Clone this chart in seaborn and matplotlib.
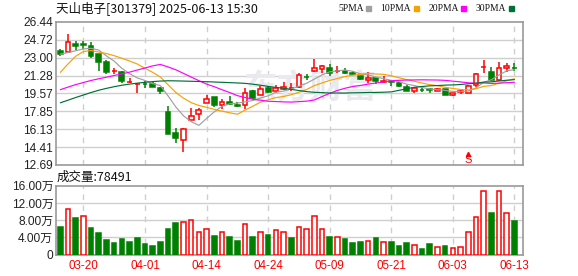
import numpy as np
import pandas as pd
import matplotlib
matplotlib.use('Agg')
import matplotlib.pyplot as plt
import seaborn as sns

# ---------------- data ----------------
dates = ['03-17', '03-18', '03-19', '03-20', '03-21', '03-24', '03-25', '03-26', '03-27', '03-28',
         '03-31', '04-01', '04-02', '04-03', '04-07', '04-08', '04-09', '04-10', '04-11', '04-14',
         '04-15', '04-16', '04-17', '04-18', '04-21', '04-22', '04-23', '04-24', '04-25', '04-28',
         '04-29', '04-30', '05-06', '05-07', '05-08', '05-09', '05-12', '05-13', '05-14', '05-15',
         '05-16', '05-19', '05-20', '05-21', '05-22', '05-23', '05-26', '05-27', '05-28', '05-29',
         '05-30', '06-03', '06-04', '06-05', '06-06', '06-09', '06-10', '06-11', '06-12', '06-13']
opens = [23.61, 23.58, 24.28, 24.30, 24.18, 23.32, 22.56, 21.69, 21.64, 20.64,
         20.46, 20.48, 20.44, 20.09, 17.74, 15.77, 15.07, 16.98, 17.58, 18.63,
         19.20, 18.44, 18.75, 18.47, 18.44, 19.80, 19.39, 20.09, 19.80, 19.99,
         20.05, 20.16, 21.18, 21.74, 21.90, 21.99, 21.70, 21.77, 21.49, 21.29,
         20.85, 21.07, 20.66, 20.72, 20.53, 20.18, 19.83, 19.89, 19.95, 19.80,
         19.96, 19.42, 19.74, 19.64, 20.34, 22.13, 21.67, 20.85, 22.02, 22.05]
highs = [23.83, 25.32, 24.59, 24.59, 24.47, 23.38, 22.82, 22.05, 21.70, 21.10,
         20.59, 20.72, 20.66, 20.21, 18.37, 16.21, 16.28, 18.15, 18.21, 19.39,
         19.20, 19.01, 19.32, 18.72, 20.09, 19.86, 20.28, 20.28, 20.34, 20.66,
         20.60, 21.58, 21.42, 22.85, 22.31, 22.37, 22.18, 22.05, 21.74, 21.29,
         21.61, 21.07, 21.23, 20.85, 20.66, 20.37, 20.09, 20.09, 20.05, 20.09,
         19.96, 19.61, 19.99, 20.34, 21.58, 22.75, 22.09, 22.56, 22.53, 22.53]
lows = [23.13, 23.51, 23.70, 23.86, 23.01, 21.74, 21.48, 21.45, 20.59, 20.59,
        19.64, 20.05, 20.15, 19.52, 15.71, 14.83, 13.93, 16.98, 16.98, 18.63,
        18.25, 18.09, 18.47, 18.25, 18.12, 19.04, 19.39, 19.58, 19.64, 19.86,
        19.81, 20.05, 20.91, 21.64, 21.58, 21.23, 21.55, 21.45, 21.36, 20.85,
        20.59, 20.47, 20.59, 20.28, 20.21, 19.80, 19.64, 19.70, 19.64, 19.77,
        19.45, 19.32, 19.55, 19.58, 20.21, 21.58, 20.78, 20.72, 21.67, 21.74]
closes = [23.39, 24.53, 24.15, 24.27, 23.20, 22.56, 21.67, 21.71, 20.78, 20.66,
          20.48, 20.46, 20.21, 19.77, 15.71, 15.27, 16.12, 17.39, 17.99, 19.01,
          18.50, 18.75, 18.60, 18.34, 19.61, 19.13, 19.96, 19.67, 20.09, 20.15,
          20.08, 21.30, 21.15, 22.05, 22.18, 21.58, 21.72, 21.55, 21.46, 20.94,
          21.07, 20.72, 20.78, 20.65, 20.31, 19.83, 20.09, 19.86, 19.92, 19.99,
          19.45, 19.61, 19.77, 20.24, 21.42, 22.16, 20.85, 22.05, 22.24, 22.02]
# volume in 万 (10k shares)
volumes = [6.37, 10.50, 8.47, 8.85, 6.14, 4.97, 3.34, 2.64, 3.57, 2.95,
           3.80, 2.41, 1.94, 2.87, 5.90, 7.30, 7.53, 7.92, 5.36, 6.06,
           4.27, 5.20, 4.04, 3.10, 6.99, 4.04, 5.20, 4.50, 5.60, 5.36,
           3.84, 6.52, 6.06, 8.85, 6.06, 4.04, 4.19, 3.57, 2.64, 2.95,
           3.26, 3.80, 2.87, 2.87, 1.94, 2.64, 2.33, 1.24, 2.41, 1.86,
           1.94, 1.48, 1.86, 5.36, 8.62, 14.68, 9.63, 14.68, 9.55, 7.85]
# 1 = red (up) volume bar, 0 = green (down)
vol_up = [0, 1, 0, 1, 0, 0, 0, 0, 0, 0, 0, 0, 0, 0, 0, 0, 1, 1, 1, 1,
          0, 1, 0, 0, 1, 0, 1, 0, 1, 1, 0, 1, 1, 1, 1, 0, 1, 0, 0, 0,
          1, 0, 1, 0, 0, 0, 1, 0, 0, 1, 0, 1, 1, 1, 1, 1, 0, 1, 1, 0]
ma5 = [23.35, 23.50, 23.68, 23.85, 23.91, 23.74, 23.17, 22.68, 21.98, 21.48,
       21.06, 20.82, 20.52, 20.32, 19.33, 18.28, 17.42, 16.85, 16.50, 17.16,
       17.80, 18.33, 18.57, 18.64, 18.76, 18.89, 19.13, 19.34, 19.69, 19.80,
       19.99, 20.26, 20.55, 20.95, 21.35, 21.65, 21.74, 21.82, 21.70, 21.45,
       21.35, 21.15, 20.99, 20.83, 20.71, 20.46, 20.33, 20.15, 20.00, 19.94,
       19.86, 19.77, 19.75, 19.81, 20.10, 20.64, 20.89, 21.34, 21.74, 21.86]
ma10 = [21.60, 22.40, 23.15, 23.60, 23.70, 23.55, 23.40, 23.20, 22.95, 22.69,
        22.40, 21.99, 21.60, 21.15, 20.40, 19.67, 19.12, 18.69, 18.41, 18.24,
        18.04, 17.87, 17.71, 17.57, 17.96, 18.34, 18.73, 18.96, 19.17, 19.28,
        19.44, 19.69, 19.95, 20.32, 20.58, 20.82, 21.00, 21.19, 21.32, 21.40,
        21.50, 21.44, 21.41, 21.27, 21.08, 20.90, 20.74, 20.57, 20.42, 20.32,
        20.16, 20.05, 19.95, 19.91, 20.02, 20.25, 20.33, 20.55, 20.78, 20.98]
ma20 = [19.93, 20.18, 20.42, 20.62, 20.82, 20.98, 21.13, 21.30, 21.45, 21.62,
        21.82, 22.02, 22.22, 22.36, 22.12, 21.85, 21.50, 21.15, 20.80, 20.47,
        20.22, 19.93, 19.66, 19.36, 19.18, 19.01, 18.92, 18.82, 18.79, 18.76,
        18.74, 18.78, 18.83, 18.94, 19.27, 19.58, 19.86, 20.07, 20.24, 20.34,
        20.47, 20.57, 20.68, 20.79, 20.83, 20.86, 20.87, 20.88, 20.87, 20.86,
        20.83, 20.75, 20.68, 20.59, 20.55, 20.58, 20.53, 20.56, 20.60, 20.65]
ma30 = [18.67, 18.92, 19.18, 19.42, 19.66, 19.88, 20.06, 20.22, 20.36, 20.47,
        20.56, 20.64, 20.71, 20.76, 20.79, 20.78, 20.76, 20.74, 20.72, 20.70,
        20.67, 20.64, 20.61, 20.58, 20.54, 20.46, 20.36, 20.25, 20.15, 20.07,
        19.96, 19.85, 19.75, 19.68, 19.65, 19.61, 19.61, 19.61, 19.63, 19.64,
        19.66, 19.67, 19.69, 19.72, 19.87, 20.02, 20.16, 20.24, 20.30, 20.33,
        20.37, 20.39, 20.43, 20.50, 20.56, 20.66, 20.69, 20.77, 20.84, 20.90]
price_ticks = [12.69, 14.41, 16.13, 17.85, 19.57, 21.28, 23.00, 24.72, 26.44]
vol_ticks = [0, 4, 8, 12, 16]
vol_tick_labels = ['0', '4.00万', '8.00万', '12.00万', '16.00万']
date_ticks = ['03-20', '04-01', '04-14', '04-24', '05-09', '05-21', '06-03', '06-13']
signal_dates = ['06-05']
title = '天山电子[301379] 2025-06-13 15:30'
volume_label = '成交量:78491'
ma_names = ['5PMA', '10PMA', '20PMA', '30PMA']
ma_colors = ['#a0a0a0', '#f4a300', '#ff00ff', '#007038']

# ---------------- style ----------------
sns.set_theme(style='white')
plt.rcParams['font.family'] = ['Liberation Sans', 'Noto Sans CJK SC']
plt.rcParams['axes.unicode_minus'] = False

RED = '#ff0000'
GREEN = '#008000'
GRID = '#cfcfcf'
SPINE = '#999999'
TXT = '#222222'

W, H = 578, 276
fig = plt.figure(figsize=(W / 100, H / 100), dpi=100)
fig.patch.set_facecolor('white')


def box(l, t, r, b):
    return [l / W, 1 - b / H, (r - l) / W, (b - t) / H]


ax = fig.add_axes(box(56, 22, 522.5, 165))
axv = fig.add_axes(box(56, 185.7, 522.5, 254.6))

n = len(closes)
x = np.arange(n)
o = np.array(opens); c = np.array(closes); hi = np.array(highs); lo = np.array(lows)
up = c >= o
date_pos = [dates.index(d) for d in date_ticks]

for a in (ax, axv):
    a.set_facecolor('white')
    a.set_xlim(-0.56, n + 0.05)
    for s in a.spines.values():
        s.set_color(SPINE)
        s.set_linewidth(1.2)
    for p in date_pos:
        a.axvline(p, color=GRID, lw=1, ls=(0, (4, 4)), zorder=0.5)

# ---------------- price panel ----------------
ax.set_ylim(price_ticks[0], price_ticks[-1])
for t in price_ticks[1:-1]:
    ax.axhline(t, color=GRID, lw=1, zorder=0.5)

ax.text(0.545, 0.53, '东方财富', transform=ax.transAxes, ha='center', va='center',
        fontsize=24, fontweight='bold', color='#e9e9ee', family=['Noto Sans CJK SC'],
        zorder=0.6, style='italic')

ax.vlines(x, lo, hi, colors=np.where(up, RED, GREEN), lw=1.1, zorder=2)
body_bot = np.minimum(o, c)
body_h = np.abs(c - o)
ax.bar(x[up], body_h[up], bottom=body_bot[up], width=0.62, facecolor='white',
       edgecolor=RED, linewidth=1.1, zorder=3)
ax.bar(x[~up], body_h[~up], bottom=body_bot[~up], width=0.62, facecolor=GREEN,
       edgecolor=GREEN, linewidth=1.1, zorder=3)

ma_df = pd.DataFrame({
    'idx': np.tile(x, 4),
    'value': np.concatenate([ma5, ma10, ma20, ma30]),
    'MA': np.repeat(ma_names, n),
})
sns.lineplot(data=ma_df, x='idx', y='value', hue='MA', hue_order=ma_names,
             palette=dict(zip(ma_names, ma_colors)), linewidth=0.85, legend=False,
             ax=ax, zorder=4)

# buy/sell signal marker
for d in signal_dates:
    i = dates.index(d)
    ax.plot([i], [0.075], transform=ax.get_xaxis_transform(), marker='^', ms=3,
            color=RED, zorder=5, clip_on=False)
    ax.text(i, 0.032, 'S', transform=ax.get_xaxis_transform(), ha='center', va='center',
            color=RED, fontsize=8, zorder=5)

ax.set_yticks(price_ticks)
ax.set_yticklabels([f'{t:.2f}' for t in price_ticks])
ax.set_xticks([])
ax.tick_params(axis='y', length=0, pad=2, labelsize=8.6, labelcolor=TXT)
ax.set_xlabel('')
ax.set_ylabel('')

# ---------------- volume panel ----------------
v = np.array(volumes)
vu = np.array(vol_up, dtype=bool)
axv.set_ylim(vol_ticks[0], vol_ticks[-1])
for t in vol_ticks[1:-1]:
    axv.axhline(t, color=GRID, lw=1, zorder=0.5)
axv.bar(x[vu], v[vu], width=0.6, facecolor='white', edgecolor=RED, linewidth=1.1, zorder=3)
axv.bar(x[~vu], v[~vu], width=0.6, facecolor=GREEN, edgecolor=GREEN, linewidth=1.1, zorder=3)
axv.set_yticks(vol_ticks)
axv.set_yticklabels(vol_tick_labels)
axv.tick_params(axis='y', length=0, pad=2, labelsize=8.6, labelcolor=TXT)
axv.set_xticks(date_pos)
axv.set_xticklabels(date_ticks)
axv.tick_params(axis='x', length=0, pad=4, labelsize=8.4, labelcolor=RED)

# ---------------- texts ----------------
fig.text(56 / W, 1 - 8.5 / H, title, ha='left', va='center', fontsize=9,
         color='#111111', family=['Noto Sans CJK SC'])
fig.text(57 / W, 1 - 177.5 / H, volume_label, ha='left', va='center', fontsize=9,
         color='#111111', family=['Noto Sans CJK SC'])

# MA legend at the top right
fig.canvas.draw()
lx = 338
for name, col in zip(ma_names, ma_colors):
    t = fig.text(lx / W, 1 - 8.5 / H, name, ha='left', va='center', fontsize=6.9,
                 color='#111111', family=['Liberation Serif'])
    bb = t.get_window_extent(renderer=fig.canvas.get_renderer())
    sq_x = bb.x1 + 2.5
    fig.patches.append(plt.Rectangle((sq_x / W, 1 - 11 / H), 5 / W, 5 / H,
                                     transform=fig.transFigure, color=col))
    lx = sq_x + 5 + 9.5

fig.savefig('out.png', dpi=100, facecolor='white')
